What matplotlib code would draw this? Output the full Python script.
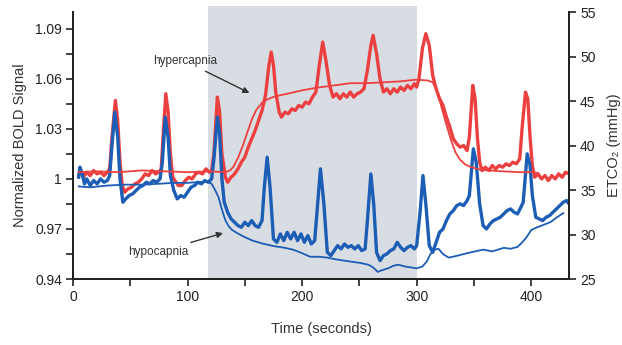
import matplotlib
matplotlib.use("Agg")
import matplotlib.pyplot as plt
from matplotlib.patches import Rectangle
from matplotlib.ticker import FixedLocator

plt.rcParams['font.family'] = ['Liberation Sans', 'DejaVu Sans']

# ---------------- data ----------------
# Hypercapnia BOLD signal (thick red, left axis)
hyper_bold_t = [5, 7, 9, 12, 15, 18, 21, 24, 27, 30, 32, 34, 37, 39, 41, 43, 45, 48, 51, 54, 57, 60, 63,
                66, 69, 72, 75, 77, 79, 81, 83, 85, 87, 89, 92, 95, 98, 101, 104, 107, 110, 113, 116, 119,
                121, 123, 126, 128, 130, 133, 135, 138, 141, 144, 147, 150, 153, 156, 159, 162, 165, 168,
                171, 173, 175, 177, 180, 182, 185, 188, 191, 194, 197, 200, 203, 206, 209, 212, 215, 218,
                221, 224, 227, 230, 233, 236, 239, 242, 245, 248, 251, 254, 257, 260, 262, 265, 268, 271,
                274, 277, 280, 283, 286, 289, 292, 295, 298, 300, 302, 305, 308, 311, 314, 317, 320, 323,
                326, 329, 332, 335, 338, 341, 344, 346, 349, 351, 353, 355, 357, 360, 363, 366, 369, 372,
                375, 378, 381, 384, 387, 390, 392, 395, 397, 399, 401, 403, 406, 409, 412, 415, 418, 421,
                424, 427, 430, 433]
hyper_bold_v = [1.002, 1.005, 1.001, 1.004, 1.002, 1.005, 1.003, 1.004, 1.002, 1.004, 1.006, 1.025, 1.047,
                1.035, 1.010, 0.996, 0.992, 0.994, 0.995, 0.997, 0.998, 1.000, 1.003, 1.002, 1.005, 1.003,
                1.004, 1.006, 1.030, 1.051, 1.040, 1.015, 1.001, 0.999, 0.996, 0.996, 0.999, 1.001, 1.000,
                1.003, 1.004, 1.003, 1.006, 1.004, 1.005, 1.015, 1.049, 1.040, 1.015, 1.001, 0.998, 1.001,
                1.003, 1.006, 1.010, 1.013, 1.019, 1.024, 1.029, 1.035, 1.041, 1.050, 1.068, 1.076, 1.068,
                1.052, 1.040, 1.037, 1.040, 1.039, 1.042, 1.041, 1.044, 1.043, 1.046, 1.045, 1.049, 1.052,
                1.068, 1.082, 1.070, 1.056, 1.049, 1.051, 1.048, 1.051, 1.049, 1.052, 1.049, 1.051, 1.052,
                1.054, 1.065, 1.080, 1.086, 1.075, 1.060, 1.052, 1.054, 1.051, 1.054, 1.052, 1.055, 1.053,
                1.056, 1.054, 1.057, 1.055, 1.060, 1.078, 1.087, 1.080, 1.062, 1.054, 1.048, 1.044, 1.037,
                1.031, 1.024, 1.021, 1.019, 1.020, 1.017, 1.025, 1.056, 1.048, 1.025, 1.010, 1.005, 1.007,
                1.005, 1.008, 1.006, 1.008, 1.007, 1.009, 1.008, 1.010, 1.009, 1.012, 1.030, 1.052, 1.048,
                1.025, 1.008, 1.001, 1.003, 1.000, 1.002, 0.999, 1.002, 1.000, 1.003, 1.001, 1.004, 1.003]

# Hypocapnia BOLD signal (thick blue, left axis)
hypo_bold_t = [5, 6, 8, 10, 12, 15, 18, 21, 24, 27, 30, 32, 34, 36.5, 39, 41, 43.5, 46, 49, 52, 55, 58,
               61, 64, 67, 70, 73, 76, 78, 80.5, 83, 85, 88, 91, 94, 97, 100, 103, 106, 109, 112, 115,
               118, 121, 123, 126, 128, 130, 132, 135, 138, 141, 144, 147, 150, 153, 156, 159, 162, 165,
               167, 169.5, 172, 175, 178, 181, 184, 187, 190, 193, 196, 199, 202, 205, 208, 211, 213,
               216, 219, 222, 225, 228, 231, 234, 237, 240, 243, 246, 249, 252, 255, 257, 260, 262.5,
               265, 268, 271, 274, 277, 280, 283, 286, 289, 292, 295, 298, 300, 303, 305.5, 308, 311,
               314, 317, 320, 323, 326, 329, 332, 335, 338, 341, 344, 346, 349.5, 352, 355, 358, 361,
               364, 367, 370, 373, 376, 379, 382, 385, 388, 391, 393, 396.5, 399, 401, 404, 407, 410,
               413, 416, 419, 422, 425, 428, 431, 433]
hypo_bold_v = [1.001, 1.007, 1.003, 0.997, 1.000, 0.996, 0.999, 0.997, 1.000, 0.998, 0.999, 1.002, 1.020,
               1.040, 1.025, 1.000, 0.986, 0.988, 0.990, 0.991, 0.993, 0.995, 0.996, 0.998, 0.997, 0.999,
               0.998, 1.000, 1.010, 1.037, 1.025, 1.002, 0.993, 0.988, 0.990, 0.989, 0.992, 0.995, 0.996,
               0.998, 0.997, 0.999, 0.998, 1.000, 1.012, 1.037, 1.027, 1.000, 0.986, 0.980, 0.976, 0.974,
               0.972, 0.971, 0.974, 0.972, 0.975, 0.972, 0.971, 0.975, 0.995, 1.013, 0.995, 0.964, 0.962,
               0.967, 0.963, 0.968, 0.964, 0.968, 0.963, 0.967, 0.962, 0.966, 0.961, 0.963, 0.980, 1.006,
               0.985, 0.956, 0.954, 0.957, 0.960, 0.958, 0.961, 0.959, 0.960, 0.958, 0.960, 0.957, 0.958,
               0.975, 1.003, 0.985, 0.956, 0.951, 0.954, 0.955, 0.957, 0.958, 0.962, 0.959, 0.957, 0.959,
               0.960, 0.958, 0.960, 0.980, 1.002, 0.985, 0.960, 0.956, 0.962, 0.968, 0.970, 0.975, 0.979,
               0.981, 0.984, 0.985, 0.984, 0.987, 0.990, 1.018, 1.010, 0.985, 0.972, 0.970, 0.973, 0.975,
               0.976, 0.977, 0.979, 0.981, 0.982, 0.980, 0.979, 0.983, 0.986, 1.015, 1.008, 0.990, 0.977,
               0.976, 0.975, 0.977, 0.978, 0.980, 0.982, 0.984, 0.986, 0.987, 0.985]

# Hypercapnia end-tidal CO2 (thin red, right axis, mmHg)
hyper_etco2_t = [5, 20, 40, 60, 80, 100, 120, 133, 137, 140, 144, 148, 152, 156, 160, 165, 170, 176, 183,
                 190, 200, 213, 225, 242, 255, 271, 285, 300, 310, 314, 317, 320, 323, 326.5, 330, 334,
                 338, 342, 347, 355, 362, 375, 390, 402, 406]
hyper_etco2_v = [37.0, 37.1, 37.0, 37.2, 37.1, 37.0, 37.1, 37.0, 37.2, 37.6, 38.6, 39.9, 41.4, 42.9, 44.0,
                 44.8, 45.2, 45.5, 45.7, 45.9, 46.2, 46.5, 46.7, 47.0, 47.0, 47.1, 47.2, 47.4, 47.3, 47.1,
                 46.3, 45.1, 43.7, 42.1, 40.6, 39.2, 38.4, 37.9, 37.6, 37.3, 37.2, 37.1, 37.0, 37.0, 36.9]

# Hypocapnia end-tidal CO2 (thin blue, right axis, mmHg)
hypo_etco2_t = [5, 15, 30, 45, 60, 75, 87, 100, 110, 118, 121, 124, 127, 130, 133, 136, 139, 144, 150,
                157, 165, 175, 185, 192, 200, 207, 215, 222, 230, 240, 251, 258, 262, 266, 270, 275, 280,
                284, 290, 295, 300, 305, 309, 312, 316, 319, 323, 328, 335, 344, 351, 358, 366, 376, 382,
                388, 392, 396, 400, 405, 411, 417, 422, 428]
hypo_etco2_v = [35.4, 35.3, 35.5, 35.6, 35.6, 35.7, 35.8, 35.8, 35.9, 35.9, 35.7, 35.0, 34.2, 32.8, 31.6,
                30.9, 30.5, 30.1, 29.7, 29.3, 29.0, 28.7, 28.5, 28.3, 27.9, 27.5, 27.5, 27.4, 27.2, 27.0,
                26.8, 26.6, 26.3, 25.8, 26.0, 26.2, 26.5, 26.6, 26.4, 26.3, 26.2, 26.4, 27.0, 27.8, 28.3,
                28.4, 27.8, 27.4, 27.6, 27.9, 28.1, 28.3, 28.1, 28.5, 28.4, 28.6, 29.1, 29.7, 30.5, 30.8,
                31.1, 31.4, 31.9, 32.4]

x_ticks = [0, 100, 200, 300, 400]
left_ticks = [0.94, 0.97, 1.00, 1.03, 1.06, 1.09]
left_tick_labels = ["0.94", "0.97", "1", "1.03", "1.06", "1.09"]
right_ticks = [25, 30, 35, 40, 45, 50, 55]
challenge_window = (118, 300)

# ---------------- styling ----------------
RED = "#ec3f3f"
BLUE = "#1c5db5"
SHADE = "#d8dde3"
INK = "#222222"

fig = plt.figure(figsize=(6.22, 3.45), dpi=100)
ax = fig.add_axes([0.1174, 0.1913, 0.7974, 0.7739])
ax2 = ax.twinx()

# shaded challenge window (slightly above the axes top, as in the reference)
ax.add_patch(Rectangle((challenge_window[0], 0), challenge_window[1] - challenge_window[0], 1.022,
                       transform=ax.get_xaxis_transform(), facecolor=SHADE, edgecolor='none',
                       clip_on=False, zorder=0))

ax.plot(hyper_bold_t, hyper_bold_v, color=RED, lw=2.4, solid_joinstyle='round', zorder=3)
ax.plot(hypo_bold_t, hypo_bold_v, color=BLUE, lw=2.4, solid_joinstyle='round', zorder=3)
ax2.plot(hyper_etco2_t, hyper_etco2_v, color=RED, lw=1.3, zorder=2)
ax2.plot(hypo_etco2_t, hypo_etco2_v, color=BLUE, lw=1.3, zorder=2)

ax.set_xlim(0, 433)
ax.set_ylim(0.94, 1.10)
ax2.set_ylim(25, 55)

ax.xaxis.set_major_locator(FixedLocator(x_ticks))
ax.xaxis.set_minor_locator(FixedLocator([50, 150, 250, 350]))
ax.yaxis.set_major_locator(FixedLocator(left_ticks))
ax.yaxis.set_minor_locator(FixedLocator([0.955, 0.985, 1.015, 1.045, 1.075]))
ax.set_yticklabels(left_tick_labels)
ax2.yaxis.set_major_locator(FixedLocator(right_ticks))

for a in (ax, ax2):
    a.tick_params(which='both', direction='out', length=5, width=1.2, color=INK,
                  labelsize=10, labelcolor=INK, pad=3)
    a.spines['top'].set_visible(False)
    for s in ('left', 'right', 'bottom'):
        a.spines[s].set_linewidth(1.4)
        a.spines[s].set_color(INK)
ax.patch.set_visible(False)

ax.set_xlabel("Time (seconds)", fontsize=10.5, color="#333333", labelpad=13)
ax.set_ylabel("Normalized BOLD Signal", fontsize=10.5, color="#333333", labelpad=6)
ax2.set_ylabel("ETCO\u2082 (mmHg)", fontsize=10.5, color="#333333", labelpad=8)

arrow = dict(arrowstyle='-|>', color="#333333", lw=1.0, mutation_scale=9, shrinkA=2, shrinkB=0)
ax.annotate("hypercapnia", xy=(154, 1.0515), xytext=(98, 1.0705), fontsize=8.5, color="#333333",
            ha='center', va='center', arrowprops=arrow, zorder=6)
ax.annotate("hypocapnia", xy=(131, 0.9675), xytext=(74, 0.9562), fontsize=8.5, color="#333333",
            ha='center', va='center', arrowprops=arrow, zorder=6)

fig.savefig("out.png", dpi=100, facecolor='white')
